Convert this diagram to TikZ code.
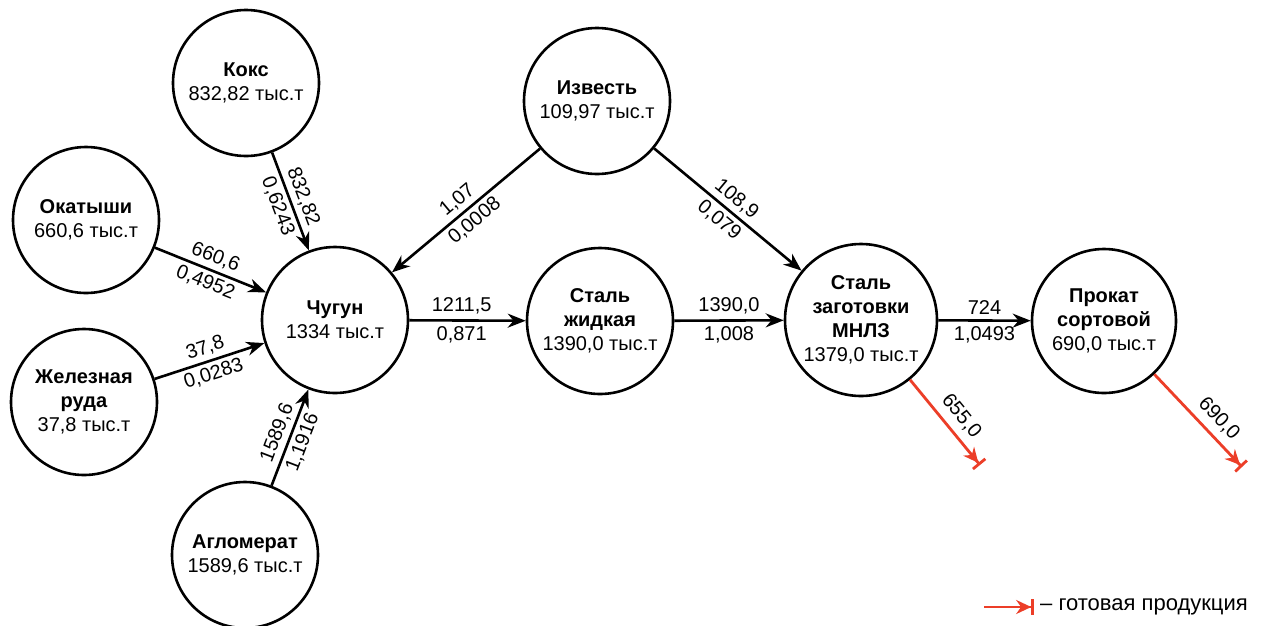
\documentclass[tikz,border=0pt]{standalone}
\usepackage{fontspec}
\setmainfont{Liberation Sans}
\usetikzlibrary{arrows.meta,shapes.geometric}
\definecolor{prodred}{RGB}{236,62,40}
\begin{document}
\begin{tikzpicture}[x=1pt,y=-1pt,
  stage/.style={circle,draw,line width=2.6pt,minimum size=146pt,inner sep=0pt},
  txt/.style={align=center,inner sep=0pt,font=\fontsize{20}{24}\selectfont},
  flow/.style={line width=2.6pt,-{Stealth[length=18pt,width=14pt]}},
  prod/.style={line width=2.8pt,draw=prodred,
    -{Stealth[length=15pt,width=14pt]Bar[width=16pt,line width=2.8pt]}},
  lbl/.style={font=\fontsize{20}{22}\selectfont,inner sep=4pt}
]
\useasboundingbox[fill=white] (0,0) rectangle (1262,625);
\node[stage] (koks) at (246,83) {};
\node[stage] (okat) at (86,220) {};
\node[stage] (ruda) at (84,402) {};
\node[stage] (aglo) at (245,555) {};
\node[stage] (chug) at (335,320) {};
\node[stage] (izv) at (597,101) {};
\node[stage] (stzh) at (600,321) {};
\node[stage,minimum size=152pt] (mnlz) at (861,320) {};
\node[stage,minimum size=144pt] (prok) at (1104,321) {};

\node[txt] (koks-t) at (koks) {\textbf{Кокс}\\832,82 тыс.т};
\node[txt] (okat-t) at (okat) {\textbf{Окатыши}\\660,6 тыс.т};
\node[txt] (ruda-t) at (ruda) {\textbf{Железная}\\\textbf{руда}\\37,8 тыс.т};
\node[txt] (aglo-t) at (aglo) {\textbf{Агломерат}\\1589,6 тыс.т};
\node[txt] (chug-t) at (chug) {\textbf{Чугун}\\1334 тыс.т};
\node[txt] (izv-t) at (izv) {\textbf{Известь}\\109,97 тыс.т};
\node[txt] (stzh-t) at (stzh) {\textbf{Сталь}\\\textbf{жидкая}\\1390,0 тыс.т};
\node[txt] (mnlz-t) at (mnlz) {\textbf{Сталь}\\\textbf{заготовки}\\\textbf{МНЛЗ}\\1379,0 тыс.т};
\node[txt] (prok-t) at (prok) {\textbf{Прокат}\\\textbf{сортовой}\\690,0 тыс.т};

\draw[flow] (koks) -- (chug) node[lbl,midway,sloped,above]{832,82} node[lbl,midway,sloped,below]{0,6243};
\draw[flow] (okat) -- (chug) node[lbl,midway,sloped,above]{660,6} node[lbl,midway,sloped,below]{0,4952};
\draw[flow] (ruda) -- (chug) node[lbl,midway,sloped,above]{37,8} node[lbl,midway,sloped,below]{0,0283};
\draw[flow] (aglo) -- (chug) node[lbl,midway,sloped,above]{1589,6} node[lbl,midway,sloped,below]{1,1916};
\draw[flow] (izv) -- (chug) node[lbl,midway,sloped,above]{1,07} node[lbl,midway,sloped,below]{0,0008};
\draw[flow] (izv) -- (mnlz) node[lbl,midway,sloped,above]{108,9} node[lbl,midway,sloped,below]{0,079};
\draw[flow] (chug) -- (stzh) node[lbl,pos=0.45,above=1pt]{1211,5} node[lbl,pos=0.45,below=1pt]{0,871};
\draw[flow] (stzh) -- (mnlz) node[lbl,midway,above=1pt]{1390,0} node[lbl,midway,below=1pt]{1,008};
\draw[flow] (mnlz) -- (prok) node[lbl,midway,above=1pt]{724} node[lbl,midway,below=1pt]{1,0493};

\coordinate (out1) at (980,465);
\coordinate (out2) at (1242,467);
\draw[prod] (mnlz) -- (out1) node[lbl,pos=0.55,sloped,above=3pt]{655,0};
\draw[prod] (prok) -- (out2) node[lbl,pos=0.6,sloped,above=3pt]{690,0};

\coordinate (lg1) at (984,607);
\coordinate (lg2) at (1034,607);
\draw[prod] (lg1) -- (lg2);
\node[anchor=west,inner sep=0pt,font=\fontsize{22}{24}\selectfont] (legtxt) at (1040,607) {– готовая продукция};
\end{tikzpicture}
\end{document}
